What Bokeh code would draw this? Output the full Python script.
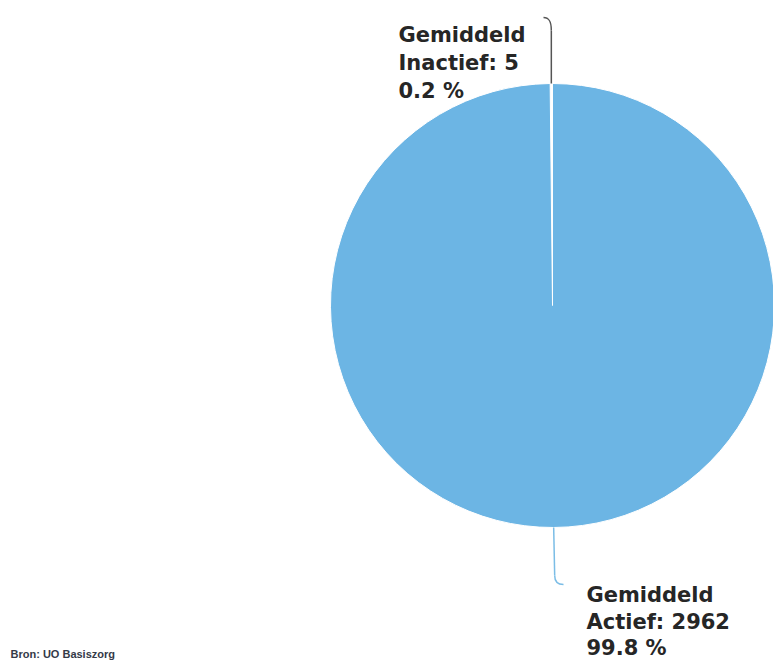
import math
from bokeh.plotting import figure
from bokeh.models import Range1d, ColumnDataSource
from bokeh.core.properties import value
from bokeh.embed import file_html
from bokeh.resources import INLINE

# ---- data ----
categories = ["Gemiddeld Inactief", "Gemiddeld Actief"]
counts = [5, 2962]
percents = ["0.2 %", "99.8 %"]
label_lines = [["Gemiddeld", "Inactief: 5", "0.2 %"],
               ["Gemiddeld", "Actief: 2962", "99.8 %"]]
colors = ["#ffffff", "#6cb5e4"]
source_text = "Bron: UO Basiszorg"

W, H = 773, 660
p = figure(width=W, height=H, output_backend="svg", toolbar_location=None,
           x_range=Range1d(0, W), y_range=Range1d(0, H), min_border=0,
           outline_line_color=None, background_fill_color="white")
p.axis.visible = False
p.grid.visible = False

def sx(x):  # picture x -> data
    return x
def sy(y):  # picture y -> data
    return H - y

cx, cy, r = sx(552), sy(305), 222
total = sum(counts)
starts, ends = [], []
a = math.pi / 2
for c in counts:
    starts.append(a)
    a += 2 * math.pi * c / total
    ends.append(a)

src = ColumnDataSource(dict(start=starts, end=ends, color=colors))
p.wedge(x=cx, y=cy, radius=r, start_angle="start", end_angle="end",
        fill_color="color", line_color="white", line_width=1, source=src)

# connectors
mid0 = (starts[0] + ends[0]) / 2
x0 = cx + r * math.cos(mid0)
y0 = cy + r * math.sin(mid0)
p.line([x0, x0], [y0, sy(30)], line_color="#555555", line_width=1.5)
p.bezier(x0=[x0], y0=[sy(30)], x1=[sx(543)], y1=[sy(17)],
         cx0=[x0], cy0=[sy(21)], cx1=[x0 - 2], cy1=[sy(17)],
         line_color="#555555", line_width=1.5)

mid1 = (starts[1] + ends[1]) / 2
x1 = cx + r * math.cos(mid1)
y1 = cy + r * math.sin(mid1)
p.line([x1, x1 + 1], [y1, sy(575)], line_color="#7bbde6", line_width=1.5)
p.bezier(x0=[x1 + 1], y0=[sy(575)], x1=[sx(563)], y1=[sy(584)],
         cx0=[x1 + 1], cy0=[sy(582)], cx1=[x1 + 5], cy1=[sy(584)],
         line_color="#7bbde6", line_width=1.5)

# labels
label_pos = [(398, [34, 62, 90]), (586, [594, 621, 647])]
for lines, (lx, bases) in zip(label_lines, label_pos):
    p.text(x=[sx(lx)] * 3, y=[sy(b) for b in bases], text=lines,
           text_font=value("DejaVu Sans"), text_font_style="bold",
           text_font_size="21px", text_color="#262626",
           text_baseline="alphabetic", text_align="left")

p.text(x=[sx(10)], y=[sy(653)], text=[source_text],
       text_font=value("Liberation Sans"), text_font_style="bold",
       text_font_size="11px", text_color="#343a48",
       text_baseline="alphabetic", text_align="left")

open("out.html", "w").write(file_html(p, INLINE))
